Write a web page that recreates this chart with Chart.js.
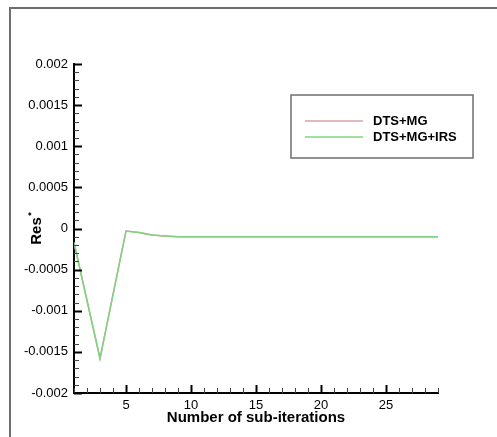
<!DOCTYPE html>
<html>
<head>
<meta charset="utf-8">
<script src="https://cdn.jsdelivr.net/npm/chart.js@4/dist/chart.umd.min.js"></script>
<style>
    html, body { margin: 0; padding: 0; background: #fff; }
    #wrap { position: relative; width: 497px; height: 437px; }
</style>
</head>
<body>
<div id="wrap"><canvas id="chart" width="497" height="437"></canvas></div>
<script>
// Dados
const subIterations = [1, 2, 3, 4, 5, 6, 7, 8, 9, 10, 11, 12, 13, 14, 15, 16, 17, 18, 19, 20, 21, 22, 23, 24, 25, 26, 27, 28, 29];
const resDtsMg = [-0.00017, -0.000875, -0.00158, -0.000805, -0.00003, -0.00005, -0.00008, -0.00009, -0.0001, -0.0001,
    -0.0001, -0.0001, -0.0001, -0.0001, -0.0001, -0.0001, -0.0001, -0.0001, -0.0001, -0.0001,
    -0.0001, -0.0001, -0.0001, -0.0001, -0.0001, -0.0001, -0.0001, -0.0001, -0.0001];
const resDtsMgIrs = [-0.00017, -0.000875, -0.00158, -0.000805, -0.00003, -0.00005, -0.00008, -0.00009, -0.0001, -0.0001,
    -0.0001, -0.0001, -0.0001, -0.0001, -0.0001, -0.0001, -0.0001, -0.0001, -0.0001, -0.0001,
    -0.0001, -0.0001, -0.0001, -0.0001, -0.0001, -0.0001, -0.0001, -0.0001, -0.0001];
const xTicks = [5, 10, 15, 20, 25];
const yTicks = [-0.002, -0.0015, -0.001, -0.0005, 0, 0.0005, 0.001, 0.0015, 0.002];
const seriesNames = ['DTS+MG', 'DTS+MG+IRS'];

const FONT = '"Liberation Sans", Arial, sans-serif';

// Moldura, marcas internas, título do eixo y e legenda
const decorPlugin = {
    id: 'decor',
    beforeDraw(chart) {
        const ctx = chart.ctx;
        ctx.save();
        ctx.strokeStyle = '#6e6e6e';
        ctx.lineWidth = 2;
        ctx.beginPath();
        ctx.moveTo(10, 440);
        ctx.lineTo(10, 8);
        ctx.lineTo(500, 8);
        ctx.stroke();
        ctx.restore();
    },
    afterDraw(chart) {
        const ctx = chart.ctx;
        const xs = chart.scales.x;
        const ys = chart.scales.y;
        const area = chart.chartArea;
        ctx.save();

        // marcas do eixo x
        for (let v = 1; v <= 29; v++) {
            const major = v % 5 === 0;
            const px = Math.round(xs.getPixelForValue(v)) + 0.5;
            ctx.strokeStyle = major ? '#000' : '#444';
            ctx.lineWidth = major ? 2 : 1;
            ctx.beginPath();
            ctx.moveTo(px, area.bottom);
            ctx.lineTo(px, area.bottom - (major ? 8 : 5));
            ctx.stroke();
        }
        // marcas do eixo y
        for (let i = -20; i <= 20; i++) {
            const major = i % 5 === 0;
            const py = Math.round(ys.getPixelForValue(i / 10000)) + 0.5;
            ctx.strokeStyle = major ? '#000' : '#444';
            ctx.lineWidth = major ? 2 : 1;
            ctx.beginPath();
            ctx.moveTo(area.left, py);
            ctx.lineTo(area.left + (major ? 8 : 5), py);
            ctx.stroke();
        }

        // título do eixo y: Res com asterisco
        ctx.fillStyle = '#000';
        ctx.translate(37, 231);
        ctx.rotate(-Math.PI / 2);
        ctx.font = 'bold 15px ' + FONT;
        ctx.textAlign = 'center';
        ctx.textBaseline = 'middle';
        ctx.fillText('Res', 0, 0);
        ctx.font = 'bold 9px ' + FONT;
        ctx.fillText('*', 17, -5);
        ctx.setTransform(1, 0, 0, 1, 0, 0);

        // legenda
        const box = { x: 291, y: 95, w: 182, h: 63 };
        ctx.fillStyle = '#fff';
        ctx.fillRect(box.x, box.y, box.w, box.h);
        ctx.strokeStyle = '#6e6e6e';
        ctx.lineWidth = 1.5;
        ctx.strokeRect(box.x, box.y, box.w, box.h);
        ctx.font = 'bold 13px ' + FONT;
        ctx.textAlign = 'left';
        ctx.textBaseline = 'middle';
        chart.data.datasets.forEach((ds, i) => {
            const y = 121 + i * 16;
            ctx.strokeStyle = ds.borderColor;
            ctx.lineWidth = 1.5;
            ctx.beginPath();
            ctx.moveTo(305, y);
            ctx.lineTo(363, y);
            ctx.stroke();
            ctx.fillStyle = '#000';
            ctx.fillText(ds.label, 373, y);
        });
        ctx.restore();
    }
};

const ctx = document.getElementById('chart').getContext('2d');
new Chart(ctx, {
    type: 'line',
    data: {
        datasets: [
            {
                label: seriesNames[0],
                data: subIterations.map((x, i) => ({ x, y: resDtsMg[i] })),
                borderColor: '#d4a3a8',
                borderWidth: 1.5,
                pointRadius: 0,
                tension: 0,
                order: 2
            },
            {
                label: seriesNames[1],
                data: subIterations.map((x, i) => ({ x, y: resDtsMgIrs[i] })),
                borderColor: '#7fd47f',
                borderWidth: 1.5,
                pointRadius: 0,
                tension: 0,
                order: 1
            }
        ]
    },
    options: {
        responsive: false,
        animation: false,
        events: [],
        layout: { padding: { top: 64, right: 59, left: 0, bottom: 0 } },
        plugins: {
            legend: { display: false },
            tooltip: { enabled: false }
        },
        scales: {
            x: {
                type: 'linear',
                min: 1,
                max: 29,
                afterBuildTicks: s => { s.ticks = xTicks.map(v => ({ value: v })); },
                afterFit: s => { s.height = 44; },
                grid: { display: true, drawOnChartArea: false, drawTicks: false },
                border: { display: true, color: '#000', width: 2 },
                ticks: {
                    padding: 5,
                    color: '#000',
                    font: { family: FONT, size: 13 },
                    maxRotation: 0,
                    autoSkip: false,
                    callback: v => String(v)
                },
                title: {
                    display: true,
                    text: 'Number of sub-iterations',
                    color: '#000',
                    font: { family: FONT, size: 15, weight: 'bold' },
                    padding: { top: 0, bottom: 10 }
                }
            },
            y: {
                type: 'linear',
                min: -0.002,
                max: 0.002,
                afterBuildTicks: s => { s.ticks = yTicks.map(v => ({ value: v })); },
                afterFit: s => { s.width = 74; },
                grid: { display: true, drawOnChartArea: false, drawTicks: false },
                border: { display: true, color: '#000', width: 2 },
                ticks: {
                    padding: 6,
                    color: '#000',
                    font: { family: FONT, size: 13 },
                    autoSkip: false,
                    callback: v => String(v)
                }
            }
        }
    },
    plugins: [decorPlugin]
});
</script>
</body>
</html>
